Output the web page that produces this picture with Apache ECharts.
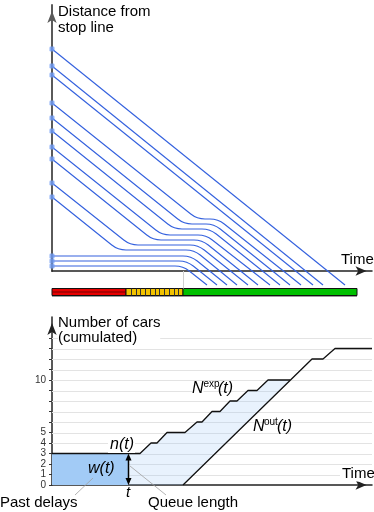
<!DOCTYPE html>
<html><head><meta charset="utf-8">
<script src="https://cdn.jsdelivr.net/npm/echarts@6/dist/echarts.min.js"></script>
<style>html,body{margin:0;padding:0;background:#fff}#c{width:374px;height:512px}</style>
</head><body><div id="c"></div><script>
// ---- Top panel: trajectories (time, distance from stop line) ----
const carStartDist   = [222,205,196,168,153,140,124,112,88,74,15,10,5];
const carQueueDist   = [null,null,null,52,47,42,36,31,26,21,15,10,5];
const carArriveTime  = [null,null,null,145,132,122,110,101,78,66,0,0,0];
const carReleaseTime = [null,null,null,166,162,158,154,150,146,142,139,135,131];
const carEndTime     = [293,271,261,249,238,228,218,206,196,185,175,165,155];
const carEndDist = -14;
// signal phases
const signalPhases = ['red','yellow','green'];
const signalStart  = [0,74,131];
const signalEnd    = [74,131,305];
const yellowCells  = 12;
// ---- Bottom panel: cumulated number of cars ----
const nExpTime  = [0,88,99,105,115,133,145,150,160,168,178,185,196,205,216,238];
const nExpCount = [3,3,4,4,5,5,6,6,7,7,8,8,9,9,10,10];
const nOutTime  = [131,260,271,283,320];
const nOutCount = [0,12,12,13,13];
const tNow = 76, nNow = 3;
const countTickValues  = [0,1,2,3,4,5,6,7,8,9,10,11,12,13,14];
const countLabelValues = [0,1,2,3,4,5,10];
const gridValues = [1,2,3,4,5,6,7,8,9,10,11,12,13,14];

const FONT = '"Liberation Sans", Arial, sans-serif';
const BLUE = '#3461de';

function roundedPath(p, r) {
  let d = 'M' + p[0][0] + ' ' + p[0][1];
  for (let i = 1; i < p.length - 1; i++) {
    const a = p[i-1], c = p[i], b = p[i+1];
    const l1 = Math.hypot(c[0]-a[0], c[1]-a[1]) || 1;
    const l2 = Math.hypot(b[0]-c[0], b[1]-c[1]) || 1;
    const r1 = Math.min(r, l1/2), r2 = Math.min(r, l2/2);
    const s = [c[0] - (c[0]-a[0])/l1*r1, c[1] - (c[1]-a[1])/l1*r1];
    const e = [c[0] + (b[0]-c[0])/l2*r2, c[1] + (b[1]-c[1])/l2*r2];
    d += ' L' + s[0] + ' ' + s[1] + ' Q' + c[0] + ' ' + c[1] + ' ' + e[0] + ' ' + e[1];
  }
  const z = p[p.length-1];
  return d + ' L' + z[0] + ' ' + z[1];
}

function renderCar(params, api) {
  const i = params.dataIndex;
  const pts = [[0, carStartDist[i]]];
  if (carQueueDist[i] != null) {
    if (carArriveTime[i] > 0) pts.push([carArriveTime[i], carQueueDist[i]]);
    pts.push([carReleaseTime[i], carQueueDist[i]]);
  }
  pts.push([carEndTime[i], carEndDist]);
  const px = pts.map(p => api.coord(p));
  return {type:'path', shape:{pathData: roundedPath(px, 8)},
          style:{stroke: BLUE, lineWidth: 1.15, fill: 'none'}};
}

function renderSignal(params, api) {
  const i = params.dataIndex;
  const a = api.coord([signalStart[i], -17]);
  const b = api.coord([signalEnd[i], -24]);
  const x = Math.round(a[0]), y = Math.round(a[1]) + 0.5, w = Math.round(b[0]) - x, h = Math.round(b[1] - a[1]);
  const kids = [];
  kids.push({type:'rect', shape:{x:x, y:y+1.5, width:w, height:h}, style:{fill:'#9a9a9a'}});
  const col = {red:'#e60000', yellow:'#f2c200', green:'#00c000'}[signalPhases[i]];
  kids.push({type:'rect', shape:{x:x, y:y, width:w, height:h}, style:{fill:col, stroke:'#111', lineWidth:1}});
  if (signalPhases[i] === 'red') {
    kids.push({type:'line', shape:{x1:x, y1:y+h/2, x2:x+w, y2:y+h/2}, style:{stroke:'#700', lineWidth:1}});
  }
  if (signalPhases[i] === 'yellow') {
    for (let k = 1; k < yellowCells; k++) {
      const xx = Math.round(x + w*k/yellowCells) + 0.5;
      kids.push({type:'line', shape:{x1:xx, y1:y, x2:xx, y2:y+h}, style:{stroke:'#333', lineWidth:1}});
    }
  }
  if (signalPhases[i] === 'green') {
    const t = api.coord([signalStart[i], 0]);
    kids.push({type:'line', shape:{x1:Math.round(t[0])+0.5, y1:t[1], x2:Math.round(t[0])+0.5, y2:y}, style:{stroke:'#cfcfcf', lineWidth:1}});
  }
  return {type:'group', children:kids};
}

function renderGrid(params, api) {
  return {type:'group', children: gridValues.map(v => {
    const a = api.coord([0, v]), b = api.coord([320, v]);
    const y = Math.round(a[1]) + 0.5;
    return {type:'line', shape:{x1:a[0], y1:y, x2:b[0], y2:y}, style:{stroke:'#e3e3e3', lineWidth:1}};
  })};
}

function renderFills(params, api) {
  const dark = [[0,0],[0,nNow],[tNow,nNow],[tNow,0]].map(p => api.coord(p));
  const up = [[tNow, nNow]];
  nExpTime.forEach((t, i) => { if (t > tNow) up.push([t, nExpCount[i]]); });
  const light = up.concat([[nOutTime[0], nOutCount[0]], [tNow, 0]]).map(p => api.coord(p));
  return {type:'group', children:[
    {type:'polygon', shape:{points: light}, style:{fill:'rgba(150,195,245,0.22)'}},
    {type:'polygon', shape:{points: dark}, style:{fill:'#a2cbf6'}}
  ]};
}

function renderNowArrow(params, api) {
  const a = api.coord([tNow, 0]), b = api.coord([tNow, nNow]);
  const x = Math.round(a[0]) + 0.5;
  return {type:'group', children:[
    {type:'line', shape:{x1:x, y1:a[1]-5, x2:x, y2:b[1]+5}, style:{stroke:'#000', lineWidth:1.5}},
    {type:'polygon', shape:{points:[[x-3,a[1]-7],[x+3,a[1]-7],[x,a[1]]]}, style:{fill:'#000'}},
    {type:'polygon', shape:{points:[[x-3,b[1]+7],[x+3,b[1]+7],[x,b[1]]]}, style:{fill:'#000'}}
  ]};
}

function axisX(gi, color) {
  return {gridIndex:gi, type:'value', min:0, max:320,
    axisLine:{show:true, onZero:false, lineStyle:{color:color, width:1.5}, symbol:['none','arrow'], symbolSize:[7,11], symbolOffset:[0,-5.5]},
    axisTick:{show:false}, axisLabel:{show:false}, splitLine:{show:false}};
}

function txt(text, x, y, opt) {
  return {type:'text', x:x, y:y, z:100, style:Object.assign({text:text, font:'15px ' + FONT, fill:'#000', textVerticalAlign:'middle'}, opt || {})};
}
const IT = 'italic 16px ' + FONT;

const option = {
  animation:false,
  grid:[{left:52, right:2, top:5, bottom:241}, {left:52, right:2, top:317, bottom:27}],
  xAxis:[axisX(0,'#222'), axisX(1,'#222')],
  yAxis:[
    {gridIndex:0, type:'value', min:0, max:266,
     axisLine:{show:true, onZero:false, lineStyle:{color:'#5a5a5a', width:2}, symbol:['none','arrow'], symbolSize:[7,12], symbolOffset:[0,-6]},
     axisTick:{show:false}, axisLabel:{show:false}, splitLine:{show:false}},
    {gridIndex:1, type:'value', min:0, max:16,
     axisLine:{show:true, onZero:false, lineStyle:{color:'#222', width:1.5}, symbol:['none','arrow'], symbolSize:[7,12], symbolOffset:[0,-6]},
     axisTick:{show:true, length:3, customValues:countTickValues, lineStyle:{color:'#333', width:1}},
     axisLabel:{show:true, customValues:countLabelValues, fontSize:10, color:'#333', margin:6, fontFamily:FONT},
     splitLine:{show:false}}
  ],
  series:[
    {type:'custom', xAxisIndex:0, yAxisIndex:0, z:2, renderItem:renderCar,
     data: carStartDist.map(d => [0, d])},
    {type:'scatter', xAxisIndex:0, yAxisIndex:0, z:3, symbol:'roundRect', symbolSize:5,
     itemStyle:{color:'#6f9bf3'}, data: carStartDist.map(d => [0, d])},
    {type:'custom', xAxisIndex:0, yAxisIndex:0, z:2, renderItem:renderSignal,
     data: signalPhases.map((p, i) => [signalStart[i], 0])},
    {type:'custom', xAxisIndex:1, yAxisIndex:1, z:1, renderItem:renderGrid, data:[[0,0]]},
    {type:'custom', xAxisIndex:1, yAxisIndex:1, z:2, renderItem:renderFills, data:[[0,0]]},
    {type:'line', xAxisIndex:1, yAxisIndex:1, z:4, showSymbol:false,
     lineStyle:{color:'#111', width:1.3}, data: nExpTime.map((t, i) => [t, nExpCount[i]])},
    {type:'line', xAxisIndex:1, yAxisIndex:1, z:4, showSymbol:false,
     lineStyle:{color:'#111', width:1.3}, data: nOutTime.map((t, i) => [t, nOutCount[i]])},
    {type:'custom', xAxisIndex:1, yAxisIndex:1, z:5, renderItem:renderNowArrow, data:[[tNow, nNow]]}
  ],
  graphic:[
    txt('Distance from', 58, 12),
    txt('stop line', 58, 28),
    txt('Time', 341, 260),
    txt('Number of cars', 58, 323, {backgroundColor:'#fff'}),
    txt('(cumulated)', 58, 338, {backgroundColor:'#fff', padding:[0,23,0,0]}),
    txt('Time', 340, 474, {backgroundColor:'#fff', padding:[0,0,0,2]}),
    txt('n(t)', 135, 445, {font:IT, textAlign:'right', backgroundColor:'#fff', padding:[0,1,0,2]}),
    txt('w(t)', 88, 469, {font:IT}),
    txt('t', 128, 493, {font:'italic 15px ' + FONT, textAlign:'center'}),
    txt('N', 192, 389, {font:IT, backgroundColor:'#fff'}),
    txt('exp', 203.5, 384, {font:'10px ' + FONT}),
    txt('(t)', 218, 389, {font:IT}),
    txt('N', 253, 427, {font:IT}),
    txt('out', 264, 422, {font:'10px ' + FONT}),
    txt('(t)', 277, 427, {font:IT}),
    {type:'line', z:99, shape:{x1:75, y1:495, x2:93, y2:478}, style:{stroke:'#a0a0a0', lineWidth:0.8}},
    {type:'line', z:99, shape:{x1:166, y1:495, x2:130, y2:466}, style:{stroke:'#a0a0a0', lineWidth:0.8}},
    txt('Past delays', 0, 503),
    txt('Queue length', 148, 503)
  ]
};
const chart = echarts.init(document.getElementById('c'), null, {renderer:'canvas'});
chart.setOption(option);
</script></body></html>
